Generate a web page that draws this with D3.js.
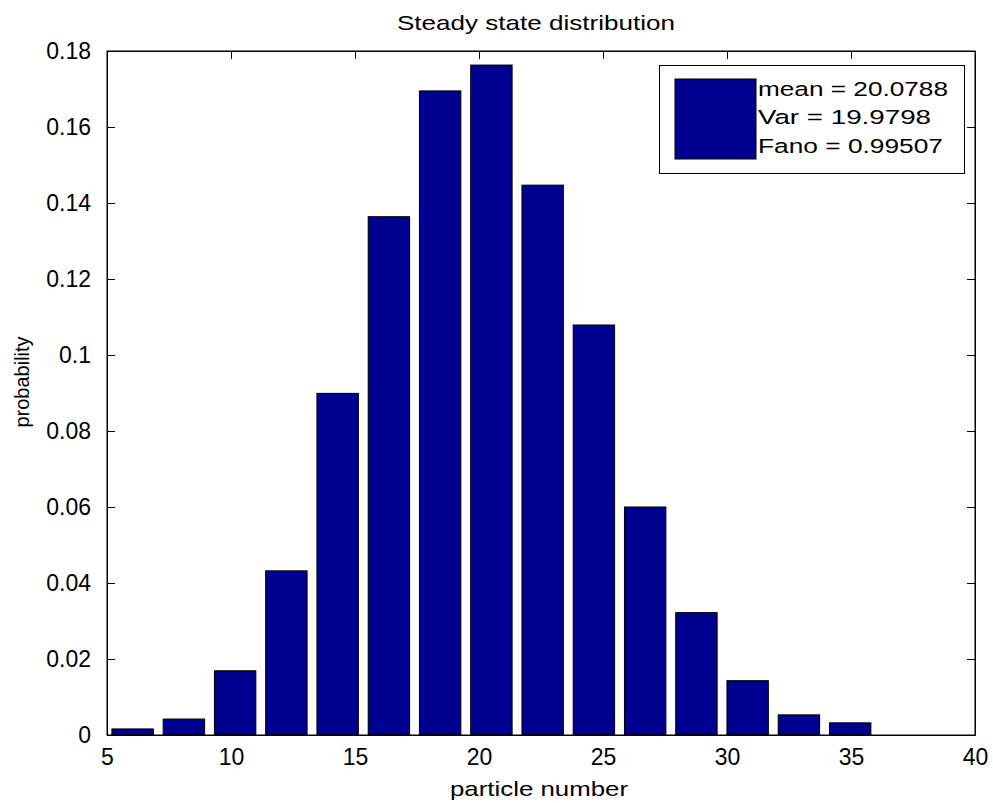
<!DOCTYPE html>
<html>
<head>
<meta charset="utf-8">
<script src="https://cdn.jsdelivr.net/npm/d3@7"></script>
<style>
  html, body { margin: 0; padding: 0; background: #fff; }
  svg { display: block; font-family: "Liberation Sans", Arial, Helvetica, sans-serif; }
</style>
</head>
<body>
<svg id="chart" width="993" height="803"></svg>
<script>
// ---- data ----
const binCenters = [6.033, 8.100, 10.167, 12.233, 14.300, 16.367, 18.433, 20.500, 22.567, 24.633, 26.700, 28.767, 30.833, 32.900, 34.967];
const probabilities = [0.0016, 0.0042, 0.0169, 0.0432, 0.0899, 0.1364, 0.1695, 0.1763, 0.1447, 0.1079, 0.0600, 0.0322, 0.0143, 0.0053, 0.0032];
const xTicks = [5, 10, 15, 20, 25, 30, 35, 40];
const yTicks = [0, 0.02, 0.04, 0.06, 0.08, 0.1, 0.12, 0.14, 0.16, 0.18];
const legendLines = ["mean = 20.0788", "Var = 19.9798", "Fano = 0.99507"];
const titleText = "Steady state distribution";
const xLabelText = "particle number";
const yLabelText = "probability";

(function () {
// ---- layout ----
const svg = d3.select("#chart");
const pLeft = 107, pRight = 975, pTop = 51, pBottom = 735;
const barWidthUnits = 1.67;
const barColor = "#000090";

const x = d3.scaleLinear().domain([5, 40]).range([pLeft, pRight]);
const y = d3.scaleLinear().domain([0, 0.18]).range([pBottom, pTop]);

// bars
svg.append("g").selectAll("rect")
  .data(binCenters.map((c, i) => ({c, v: probabilities[i]})))
  .join("rect")
  .attr("x", d => x(d.c - barWidthUnits / 2))
  .attr("width", d => x(d.c + barWidthUnits / 2) - x(d.c - barWidthUnits / 2))
  .attr("y", d => y(d.v))
  .attr("height", d => y(0) - y(d.v))
  .attr("fill", barColor)
  .attr("stroke", "#000")
  .attr("stroke-width", 1);

// axes (inner ticks)
const tickLen = 8;
const fmtY = d => d === 0 ? "0" : String(+d.toFixed(2));

const xAxisB = d3.axisBottom(x).tickValues(xTicks).tickSizeInner(-tickLen).tickSizeOuter(0).tickPadding(14);
const xAxisT = d3.axisTop(x).tickValues(xTicks).tickSizeInner(-tickLen).tickSizeOuter(0).tickFormat("");
const yAxisL = d3.axisLeft(y).tickValues(yTicks).tickSizeInner(-tickLen).tickSizeOuter(0).tickPadding(16).tickFormat(fmtY);
const yAxisR = d3.axisRight(y).tickValues(yTicks).tickSizeInner(-tickLen).tickSizeOuter(0).tickFormat("");

function styleAxis(g) {
  g.selectAll("path").attr("stroke", "#000").attr("stroke-width", 1);
  g.selectAll("line").attr("stroke", "#000").attr("stroke-width", 1);
  g.selectAll("text").attr("fill", "#000").style("font-size", "23px").style("font-family", '"Liberation Sans", Arial, sans-serif');
}

svg.append("g").attr("transform", `translate(0,${pBottom})`).call(xAxisB).call(styleAxis);
svg.append("g").attr("transform", `translate(0,${pTop})`).call(xAxisT).call(styleAxis);
svg.append("g").attr("transform", `translate(${pLeft},0)`).call(yAxisL).call(styleAxis);
svg.append("g").attr("transform", `translate(${pRight},0)`).call(yAxisR).call(styleAxis);

// box
svg.append("rect")
  .attr("x", pLeft).attr("y", pTop).attr("width", pRight - pLeft).attr("height", pBottom - pTop)
  .attr("fill", "none").attr("stroke", "#000").attr("stroke-width", 1);

// title
svg.append("text")
  .attr("x", 536).attr("y", 30)
  .attr("text-anchor", "middle")
  .attr("textLength", 278)
  .attr("lengthAdjust", "spacingAndGlyphs")
  .style("font-size", "21px")
  .text(titleText);

// x label
svg.append("text")
  .attr("x", 539).attr("y", 796)
  .attr("text-anchor", "middle")
  .attr("textLength", 178)
  .attr("lengthAdjust", "spacingAndGlyphs")
  .style("font-size", "21px")
  .text(xLabelText);

// y label
svg.append("text")
  .attr("transform", "translate(29,382) rotate(-90)")
  .attr("text-anchor", "middle")
  .style("font-size", "20px")
  .text(yLabelText);

// legend
const leg = svg.append("g");
leg.append("rect")
  .attr("x", 659.5).attr("y", 65.5).attr("width", 305).attr("height", 108)
  .attr("fill", "#fff").attr("stroke", "#000").attr("stroke-width", 1);
leg.append("rect")
  .attr("x", 675).attr("y", 79).attr("width", 81).attr("height", 80)
  .attr("fill", barColor).attr("stroke", "#000").attr("stroke-width", 1);
const legLens = [190, 173, 185];
leg.selectAll("text.leg").data(legendLines).join("text")
  .attr("class", "leg")
  .attr("x", 758)
  .attr("y", (d, i) => 96 + i * 28.3)
  .attr("textLength", (d, i) => legLens[i])
  .attr("lengthAdjust", "spacingAndGlyphs")
  .style("font-size", "20.5px")
  .text(d => d);
})();
</script>
</body>
</html>
